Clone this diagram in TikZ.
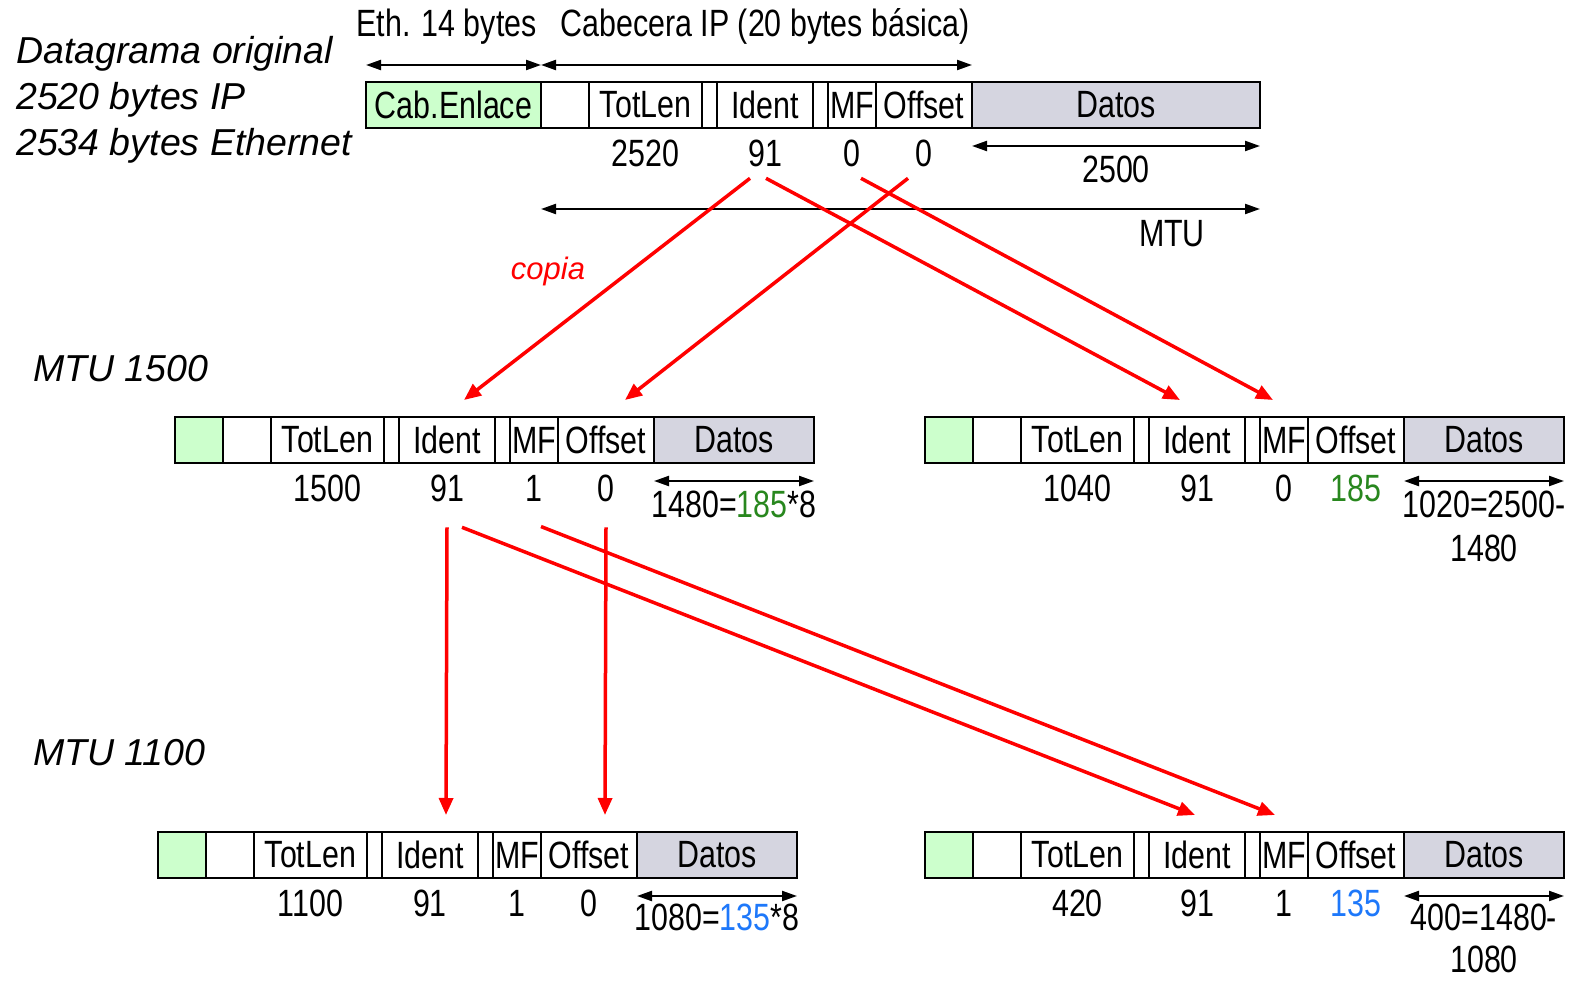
\documentclass[tikz,border=0pt]{standalone}
\usepackage{fontspec}
\setmainfont[FakeStretch=0.8]{Liberation Sans}
\newfontfamily\rotulo{Liberation Sans}
\usetikzlibrary{positioning,arrows.meta}
\definecolor{enlace}{RGB}{204,255,204}
\definecolor{datos}{RGB}{213,213,224}
\definecolor{verde}{RGB}{40,135,30}
\definecolor{azul}{RGB}{30,120,250}

\tikzset{
	celda/.style={draw, line width=2pt, minimum height=46pt, inner sep=0pt, outer sep=0pt},
	valor/.style={inner sep=0pt},
	cota/.style={<->, >={Triangle[length=15pt,width=10pt]}, line width=2.2pt},
	copia/.style={->, >={Triangle[length=17pt,width=14pt]}, line width=3.5pt, red},
	titulo/.style={inner sep=0pt, font=\rotulo\itshape\fontsize{37.5}{46}\selectfont}
}

% one fragment: prefix, north west corner, link width, data width, link text
\newcommand{\fragmento}[5]{
	\node[celda, fill=enlace, minimum width=#3, anchor=north west] (#1E) at (#2) {#5};
	\node[celda, minimum width=48, right=0pt of #1E] (#1B) {};
	\node[celda, minimum width=113, right=0pt of #1B] (#1T) {TotLen};
	\node[celda, minimum width=15, right=0pt of #1T] (#1X) {};
	\node[celda, minimum width=96, right=0pt of #1X] (#1I) {Ident};
	\node[celda, minimum width=15, right=0pt of #1I] (#1Y) {};
	\node[celda, minimum width=48, right=0pt of #1Y] (#1M) {MF};
	\node[celda, minimum width=96, right=0pt of #1M] (#1O) {Offset};
	\node[celda, fill=datos, minimum width=#4, right=0pt of #1O] (#1D) {Datos};
}

\begin{document}
\begin{tikzpicture}[x=1pt, y=-1pt, font=\fontsize{38}{44}\selectfont]
	\useasboundingbox (0,0) rectangle (1572,981);

	% datagrama original
	\node[titulo, align=left, anchor=north west] (orig) at (16,36) {Datagrama original\\2520 bytes IP\\2534 bytes Ethernet};
	\fragmento{a}{366,82}{175}{288}{Cab.Enlace}
	\node[valor, below=12pt of aT] (vaT) {2520};
	\node[valor, below=12pt of aI] (vaI) {91};
	\node[valor, below=12pt of aM] (vaM) {0};
	\node[valor, below=12pt of aO] (vaO) {0};
	\draw[cota] ([yshift=-18pt]aD.south west) -- ([yshift=-18pt]aD.south east);
	\node[valor, below=28pt of aD] (vaD) {2500};

	\draw[cota] ([yshift=17pt]aE.north west) -- ([yshift=17pt]aE.north east);
	\draw[cota] ([yshift=17pt]aB.north west) -- ([yshift=17pt]aO.north east);
	\node[valor, above=37pt of aE, xshift=-7pt] (eth) {Eth. 14 bytes};
	\node[valor, above=37pt of aI] (cab) {Cabecera IP (20 bytes básica)};

	\coordinate (mtuI) at ([yshift=-81pt]aB.south west);
	\coordinate (mtuD) at ([yshift=-81pt]aD.south east);
	\draw[cota] (mtuI) -- (mtuD);
	\node[valor, below=11pt of mtuD, xshift=-88pt] (mtu) {MTU};

	\node[titulo, red, font=\rotulo\itshape\fontsize{31}{36}\selectfont] (cp) at (548,271) {copia};

	% MTU 1500
	\node[titulo, anchor=base west] (m1500) at (33,382) {MTU 1500};
	\fragmento{b}{175,417}{48}{160}{}
	\node[valor, below=12pt of bT] (vbT) {1500};
	\node[valor, below=12pt of bI] (vbI) {91};
	\node[valor, below=12pt of bM] (vbM) {1};
	\node[valor, below=12pt of bO] (vbO) {0};
	\draw[cota] ([yshift=-18pt]bD.south west) -- ([yshift=-18pt]bD.south east);
	\node[valor, below=28pt of bD] (vbD) {1480=\textcolor{verde}{185}*8};

	\fragmento{c}{925,417}{48}{160}{}
	\node[valor, below=12pt of cT] (vcT) {1040};
	\node[valor, below=12pt of cI] (vcI) {91};
	\node[valor, below=12pt of cM] (vcM) {0};
	\node[valor, below=12pt of cO, verde] (vcO) {185};
	\draw[cota] ([yshift=-18pt]cD.south west) -- ([yshift=-18pt]cD.south east);
	\node[valor, align=center, below=28pt of cD] (vcD) {1020=2500-\\1480};

	% MTU 1100
	\node[titulo, anchor=base west] (m1100) at (33,765) {MTU 1100};
	\fragmento{d}{158,832}{48}{160}{}
	\node[valor, below=12pt of dT] (vdT) {1100};
	\node[valor, below=12pt of dI] (vdI) {91};
	\node[valor, below=12pt of dM] (vdM) {1};
	\node[valor, below=12pt of dO] (vdO) {0};
	\draw[cota] ([yshift=-18pt]dD.south west) -- ([yshift=-18pt]dD.south east);
	\node[valor, below=26pt of dD] (vdD) {1080=\textcolor{azul}{135}*8};

	\fragmento{e}{925,832}{48}{160}{}
	\node[valor, below=12pt of eT] (veT) {420};
	\node[valor, below=12pt of eI] (veI) {91};
	\node[valor, below=12pt of eM] (veM) {1};
	\node[valor, below=12pt of eO, azul] (veO) {135};
	\draw[cota] ([yshift=-18pt]eD.south west) -- ([yshift=-18pt]eD.south east);
	\node[valor, align=center, below=26pt of eD, font=\fontsize{38}{42}\selectfont] (veD) {400=1480-\\1080};

	% copias
	\draw[copia] ([xshift=-15pt,yshift=-11pt]vaI.south) -- ([xshift=17pt,yshift=17pt]bI.north);
	\draw[copia] ([xshift=-16pt,yshift=-11pt]vaO.south) -- ([xshift=19pt,yshift=17pt]bO.north);
	\draw[copia] ([xshift=1pt,yshift=-11pt]vaI.south) -- ([xshift=-17pt,yshift=17pt]cI.north);
	\draw[copia] ([xshift=9pt,yshift=-11pt]vaM.south) -- ([xshift=-11pt,yshift=17pt]cM.north);

	\draw[copia] ([yshift=-25pt]vbI.south) -- ([xshift=16pt,yshift=17pt]dI.north);
	\draw[copia] ([yshift=-25pt]vbO.south) -- ([xshift=16pt,yshift=17pt]dO.north);
	\draw[copia] ([xshift=15pt,yshift=-25pt]vbI.south) -- ([xshift=-2pt,yshift=17pt]eI.north);
	\draw[copia] ([xshift=7pt,yshift=-25pt]vbM.south) -- ([xshift=-9pt,yshift=17pt]eM.north);
\end{tikzpicture}
\end{document}
